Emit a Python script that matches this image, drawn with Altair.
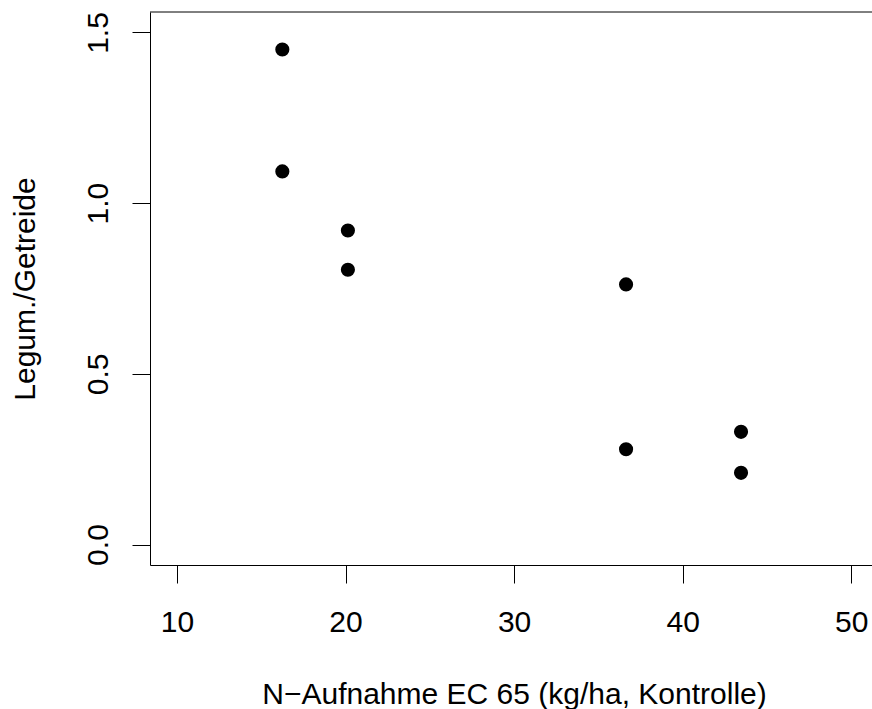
import altair as alt
import pandas as pd

# N uptake at EC 65 (kg/ha, control) and legume/cereal ratio
n_uptake = [16.25, 16.25, 20.14, 20.14, 36.64, 36.64, 43.46, 43.46]
ratio = [1.450, 1.093, 0.920, 0.805, 0.762, 0.279, 0.330, 0.210]
x_ticks = [10, 20, 30, 40, 50]
y_ticks = [0.0, 0.5, 1.0, 1.5]

df = pd.DataFrame({"n": n_uptake, "r": ratio})

W, H = 722, 553
PX_PER_UNIT = 16.8575
FONT = "Liberation Sans"
FS = 30

x_axis = alt.Axis(
    values=x_ticks, format="d", grid=False,
    domainColor="black", domainWidth=1,
    tickColor="black", tickSize=18, tickWidth=1,
    labelFont=FONT, labelFontSize=FS, labelColor="black",
    labelPadding=24, labelFlush=False, labelOverlap=False,
    title="N\u2212Aufnahme EC 65 (kg/ha, Kontrolle)",
    titleFont=FONT, titleFontSize=FS, titleFontWeight="normal",
    titleColor="black", titleBaseline="alphabetic",
    titleX=364, titleY=138,
)

y_axis = alt.Axis(
    values=y_ticks, format=".1f", grid=False,
    domainColor="black", domainWidth=1,
    tickColor="black", tickSize=18, tickWidth=1,
    labelFont=FONT, labelFontSize=FS, labelColor="black",
    labelAngle=270, labelAlign="center", labelBaseline="alphabetic",
    labelPadding=25, labelFlush=False, labelOverlap=False,
    title="Legum./Getreide",
    titleFont=FONT, titleFontSize=FS, titleFontWeight="normal",
    titleColor="black", titleAngle=270, titleBaseline="alphabetic",
    titleAlign="center", titleX=-116, titleY=H / 2,
)

points = alt.Chart(df).mark_point(
    filled=True, shape="circle", size=200, color="black", opacity=1
).encode(
    x=alt.X("n:Q", axis=x_axis,
            scale=alt.Scale(domain=[8.4, 8.4 + W / PX_PER_UNIT], nice=False, zero=False)),
    y=alt.Y("r:Q", axis=y_axis,
            scale=alt.Scale(domain=[-0.06, 1.56], nice=False, zero=False)),
)

# top edge of the plot frame
frame_top = alt.Chart(pd.DataFrame({"k": [0]})).mark_rule(
    color="black", strokeWidth=1
).encode(x=alt.value(0), x2=alt.value(W), y=alt.value(0))

chart = alt.layer(points, frame_top).properties(
    width=W, height=H,
    autosize=alt.AutoSizeParams(type="none"),
    padding={"left": 150, "top": 12, "right": 0, "bottom": 144},
    background="white",
).configure_view(stroke=None)

chart.save("out.html", embed_options={"renderer": "svg", "actions": False})
